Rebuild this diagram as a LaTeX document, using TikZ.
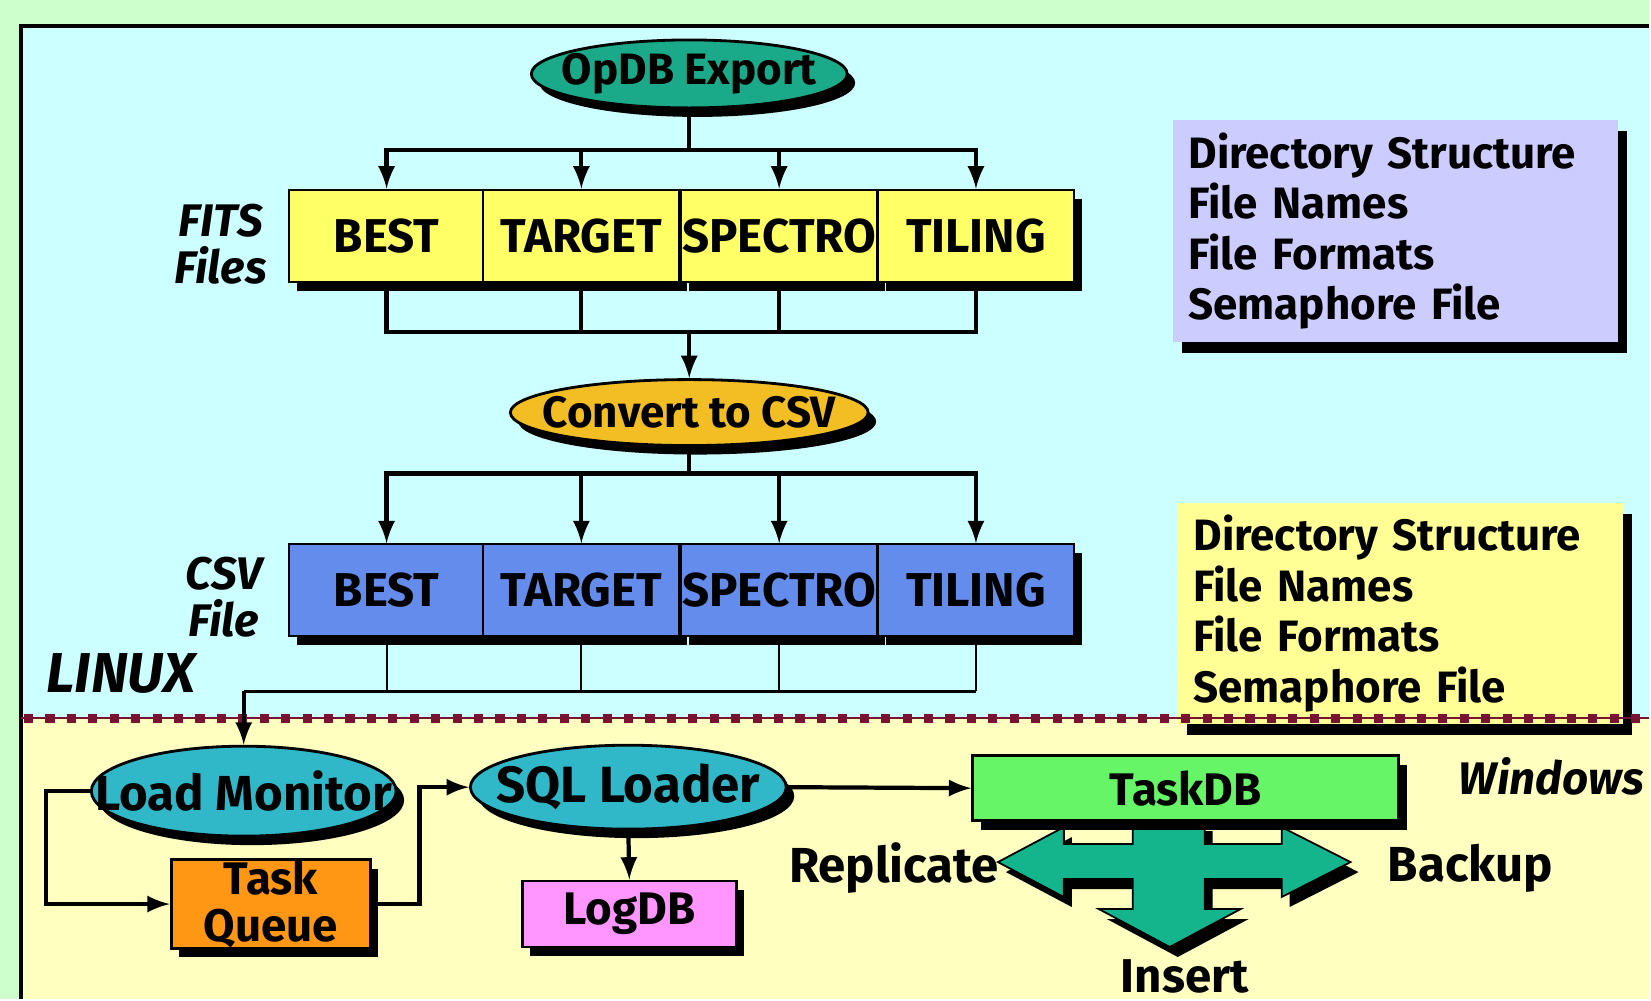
\documentclass[tikz,border=0pt]{standalone}
\usepackage{fontspec}
\setmainfont{Fira Sans}
\usetikzlibrary{shapes.geometric,shadows}

\definecolor{outergreen}{RGB}{204,255,204}
\definecolor{linuxbg}{RGB}{204,255,255}
\definecolor{winbg}{RGB}{255,255,192}
\definecolor{notebg}{RGB}{255,255,150}
\definecolor{dirbg}{RGB}{204,204,255}
\definecolor{opdbfill}{RGB}{26,170,138}
\definecolor{convfill}{RGB}{242,190,36}
\definecolor{fitsfill}{RGB}{255,255,102}
\definecolor{csvfill}{RGB}{100,140,236}
\definecolor{loadfill}{RGB}{48,184,200}
\definecolor{taskdbfill}{RGB}{102,245,102}
\definecolor{queuefill}{RGB}{255,150,20}
\definecolor{logdbfill}{RGB}{255,150,255}
\definecolor{crossfill}{RGB}{20,180,140}
\definecolor{sepline}{RGB}{120,20,50}

% outline of the three-way block arrow under TaskDB
\newcommand{\crossoutline}{(1134,822) -- (1206,822) -- (1206,845) -- (1283,845) -- (1283,828) -- (1352,863) -- (1283,898) -- (1283,880) -- (1206,880) -- (1206,910) -- (1242,910) -- (1171,948) -- (1100,910) -- (1134,910) -- (1134,880) -- (1065,880) -- (1065,898) -- (999,863) -- (1065,828) -- (1065,845) -- (1134,845) -- cycle}

\begin{document}
\begin{tikzpicture}[x=0.01cm, y=-0.01cm, >=latex,
  boxshadow/.style={drop shadow={shadow xshift=0.08cm, shadow yshift=-0.09cm, fill=black, opacity=1}},
  ell/.style={ellipse, draw, line width=0.8pt, inner sep=0pt, boxshadow},
  filebox/.style={rectangle, draw, line width=0.6pt, minimum width=1.96cm, minimum height=0.92cm, inner sep=0pt, boxshadow, font=\fontsize{13.5}{16}\selectfont\bfseries},
  dbbox/.style={rectangle, draw, line width=0.8pt, inner sep=0pt, boxshadow, font=\fontsize{13}{13.5}\selectfont\bfseries},
  lbl/.style={font=\fontsize{12.5}{14}\selectfont\bfseries, inner sep=0pt},
  lowtxt/.style={font=\fontsize{14}{16}\selectfont\bfseries, inner sep=0pt},
  side/.style={font=\fontsize{13}{13.4}\selectfont\bfseries\itshape, align=center, inner sep=0pt},
  notebox/.style={rectangle, anchor=north west, minimum width=4.45cm, align=left, text width=4.15cm, inner xsep=0.15cm, font=\fontsize{12.5}{14.4}\selectfont\bfseries, drop shadow={shadow xshift=0.09cm, shadow yshift=-0.11cm, fill=black, opacity=1}},
  busline/.style={line width=1.2pt},
  feed/.style={line width=1.2pt, ->},
]
% backgrounds and frame
\fill[outergreen] (0,0) rectangle (1651,1000);
\fill[linuxbg] (21,26) rectangle (1651,719);
\fill[winbg] (21,719) rectangle (1651,1000);
\draw[line width=1pt] (21,1000) -- (21,26) -- (1651,26);
\useasboundingbox (0,0) rectangle (1651,1000);

% notes on the right
\node (dirnote) at (1174,119) [notebox, fill=dirbg, minimum height=2.23cm] {Directory Structure\\File Names\\File Formats\\Semaphore File};
\node (winnote) at (1179,503) [notebox, fill=notebg, minimum height=2.18cm] {Directory Structure\\File Names\\File Formats\\Semaphore File};

% LINUX / Windows border
\draw[sepline, line width=0.7pt] (21,719) -- (1651,719);
\draw[sepline, line width=2.6pt, dash pattern=on 2.6pt off 3.5pt] (24,719) -- (1651,719);

% export and FITS files
\node (opdb) at (690,74) [ell, fill=opdbfill, minimum width=3.16cm, minimum height=0.68cm] {};
\node (opdbtxt) at (opdb) [lbl] {OpDB Export};

\node (fbest) at (387,236) [filebox, fill=fitsfill] {BEST};
\node (ftarget) at (582,236) [filebox, fill=fitsfill] {TARGET};
\node (fspectro) at (780,236) [filebox, fill=fitsfill] {SPECTRO};
\node (ftiling) at (977,236) [filebox, fill=fitsfill] {TILING};
\node (fitslbl) at (221,244) [side] {FITS\\Files};

% conversion and CSV files
\node (conv) at (690,413) [ell, fill=convfill, minimum width=3.58cm, minimum height=0.66cm] {};
\node (convtxt) at (conv) [lbl] {Convert to CSV};

\node (cbest) at (387,591) [filebox, fill=csvfill] {BEST};
\node (ctarget) at (582,591) [filebox, fill=csvfill] {TARGET};
\node (cspectro) at (780,591) [filebox, fill=csvfill] {SPECTRO};
\node (ctiling) at (977,591) [filebox, fill=csvfill] {TILING};
\node (csvlbl) at (224,598) [side] {CSV\\File};

\node (linux) at (121,674) [side, font=\fontsize{16}{18}\selectfont\bfseries\itshape] {LINUX};
\node (windows) at (1553,777) [side] {Windows};

% loading side
\node (lmon) at (244,792) [ell, fill=loadfill, minimum width=3.05cm, minimum height=0.9cm] {};
\node (lmontxt) at (lmon) [lowtxt] {Load Monitor};
\node (sqll) at (629,788) [ell, fill=loadfill, minimum width=3.16cm, minimum height=0.84cm] {};
\node (sqlltxt) at (sqll) [lowtxt, font=\fontsize{14.5}{16}\selectfont\bfseries] {SQL Loader};

\node (tqueue) at (271,905) [dbbox, fill=queuefill, minimum width=1.99cm, minimum height=0.68cm, align=center] {Task\\Queue};
\node (logdb) at (630,915) [dbbox, fill=logdbfill, minimum width=2.14cm, minimum height=0.66cm] {LogDB};

\fill[black, shift={(8,10)}] \crossoutline;
\filldraw[fill=crossfill, draw=black, line width=0.5pt] \crossoutline;
\node (taskdb) at (1187,789) [dbbox, fill=taskdbfill, minimum width=4.26cm, minimum height=0.65cm] {TaskDB};

\node (repl) at (895,869) [lowtxt] {Replicate};
\node (backup) at (1472,869) [lowtxt] {Backup};
\node (insert) at (1186,978) [lowtxt, font=\fontsize{13.5}{15}\selectfont\bfseries] {Insert};

% connectors
\coordinate (fsplit) at (690,150);
\coordinate (fmerge) at (690,332);
\coordinate (csplit) at (690,474);
\coordinate (cmerge) at (244,692);

\draw[busline] (opdb.south) -- (fsplit);
\foreach \b in {fbest,ftarget,fspectro,ftiling} {
  \draw[feed] (fsplit) -| (\b.north);
  \draw[busline] (\b.south) |- (fmerge);
}
\draw[feed] (fmerge) -- (conv.north);
\draw[busline] (conv.south) -- (csplit);
\foreach \b in {cbest,ctarget,cspectro,ctiling} {
  \draw[feed] (csplit) -| (\b.north);
  \draw[line width=0.6pt] (\b.south) -- (\b.south |- cmerge);
}
\draw[line width=0.8pt] (cmerge) -- (ctiling.south |- cmerge);
\draw[feed] (cmerge) -- (lmon.north);

\draw[feed] (lmon.west) -- ++(-44,0) |- (tqueue.west);
\draw[feed] (tqueue.east) -- ++(48,0) |- (sqll.west);
\draw[feed] (sqll.east) -- (taskdb.west);
\draw[feed] (sqll.south) -- (logdb.north);
\end{tikzpicture}
\end{document}
